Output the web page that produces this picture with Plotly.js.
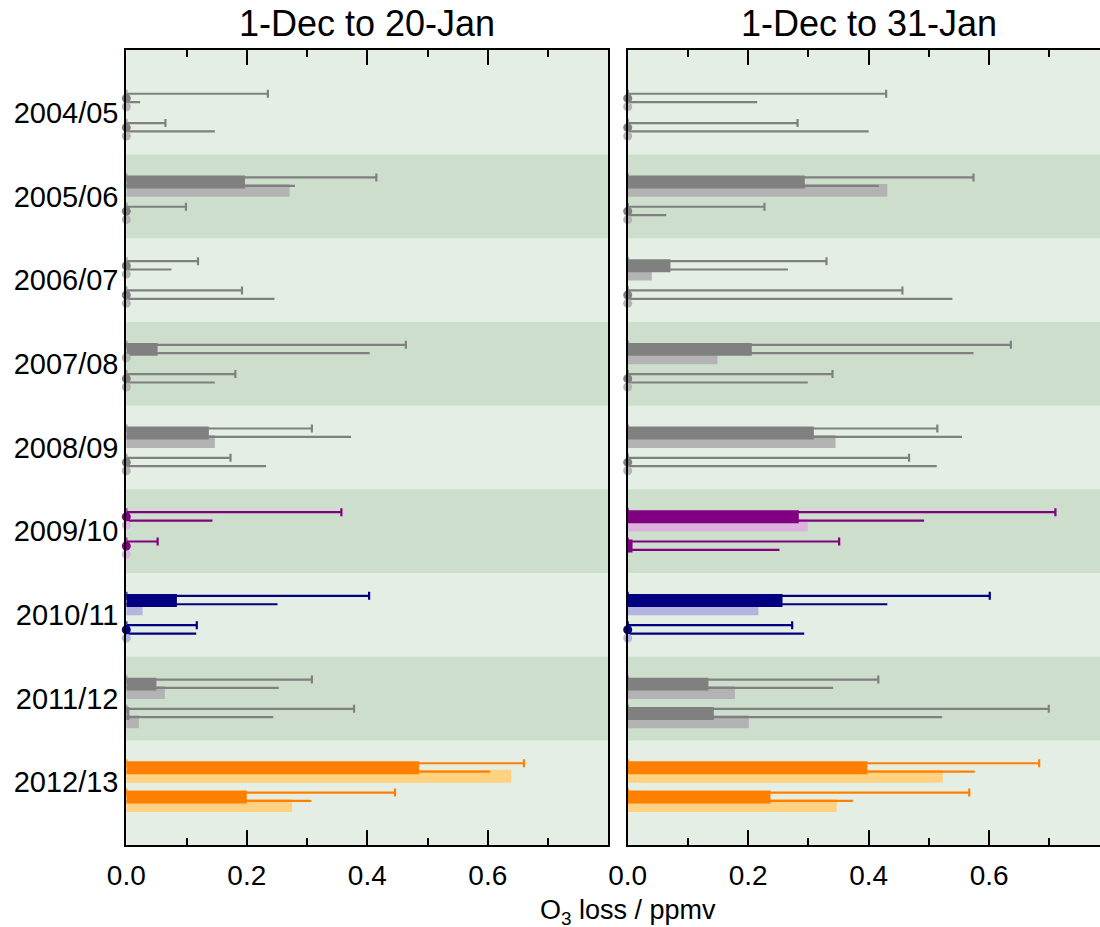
<!DOCTYPE html>
<html>
<head>
<meta charset="utf-8">
<script src="https://cdn.plot.ly/plotly-3.0.1.min.js"></script>
<style>
    body { margin: 0; background: white; }
    #chart { width: 1100px; height: 927px; }
</style>
</head>
<body>
<div id="chart"></div>
<script>
'use strict';

// Seasons, top to bottom
const seasons = ['2004/05', '2005/06', '2006/07', '2007/08', '2008/09',
                 '2009/10', '2010/11', '2011/12', '2012/13'];

// x tick labels
const xTicks = [0, 0.2, 0.4, 0.6];

// 1-Dec to 20-Jan: bar values and upper ends of the lines (ppmv)
const jan20Dark1 = [0, 0.197, 0, 0.052, 0.137, 0, 0.084, 0.050, 0.486];
const jan20Dark1Hi = [0.235, 0.415, 0.119, 0.464, 0.308, 0.357, 0.403, 0.308, 0.660];
const jan20Light1 = [0, 0.271, 0, 0, 0.147, 0, 0.027, 0.064, 0.639];
const jan20Light1Hi = [0.023, 0.280, 0.075, 0.404, 0.373, 0.143, 0.251, 0.253, 0.604];
const jan20Dark2 = [0, 0, 0, 0, 0, 0, 0, 0.005, 0.200];
const jan20Dark2Hi = [0.065, 0.099, 0.192, 0.181, 0.173, 0.052, 0.117, 0.378, 0.446];
const jan20Light2 = [0, 0, 0, 0, 0, 0, 0, 0.021, 0.275];
const jan20Light2Hi = [0.147, 0, 0.246, 0.147, 0.232, 0, 0.116, 0.244, 0.307];

// 1-Dec to 31-Jan
const jan31Dark1 = [0, 0.294, 0.071, 0.206, 0.309, 0.284, 0.257, 0.134, 0.398];
const jan31Dark1Hi = [0.429, 0.574, 0.330, 0.636, 0.514, 0.710, 0.601, 0.416, 0.683];
const jan31Light1 = [0, 0.431, 0.040, 0.149, 0.345, 0.299, 0.217, 0.178, 0.523];
const jan31Light1Hi = [0.215, 0.417, 0.266, 0.574, 0.555, 0.492, 0.431, 0.341, 0.576];
const jan31Dark2 = [0, 0, 0, 0, 0, 0.008, 0, 0.143, 0.237];
const jan31Dark2Hi = [0.282, 0.227, 0.456, 0.340, 0.467, 0.351, 0.273, 0.699, 0.567];
const jan31Light2 = [0, 0, 0, 0, 0, null, 0, 0.201, 0.347];
const jan31Light2Hi = [0.400, 0.064, 0.539, 0.299, 0.513, 0.252, 0.293, 0.522, 0.374];

// colours [dark, light]
const defaultColors = ['#808080', '#b3b3b3'];
const highlight = {
    '2009/10': ['#800080', '#ddb3dd'],
    '2010/11': ['#000080', '#b4b4de'],
    '2012/13': ['#ff8000', '#ffd180']
};

// sub-row layout inside one season band
const rows = [
    { offset: -0.25, center: -0.1725, line: -0.227, shade: 0, cap: 4 },
    { offset: -0.15, center: -0.0725, line: -0.127, shade: 1, cap: 0 },
    { offset: 0.10, center: 0.1775, line: 0.123, shade: 0, cap: 4 },
    { offset: 0.20, center: 0.2775, line: 0.223, shade: 1, cap: 0 }
];
const barWidth = 0.155;

function seasonColor(i, shade) {
    let c = highlight[seasons[i]] || defaultColors;
    return c[shade];
}

function makePanel(series, xa, ya) {
    let idx = seasons.map((s, i) => i);
    let bars = [];
    let lines = [];
    let dots = [];

    // light bars first so the dark ones sit on top
    for (let r of [1, 3, 0, 2]) {
        bars.push({
            type: 'bar',
            orientation: 'h',
            x: series[r].vals,
            y: idx,
            width: barWidth,
            offset: rows[r].offset,
            marker: { color: idx.map(i => seasonColor(i, rows[r].shade)) },
            xaxis: xa, yaxis: ya,
            hoverinfo: 'skip'
        });
    }

    for (let r of [1, 3, 0, 2]) {
        for (let i of idx) {
            let hi = series[r].hi[i];
            if (!hi) continue;
            lines.push({
                type: 'scatter',
                mode: 'markers',
                x: [0],
                y: [i + rows[r].line],
                marker: { opacity: 0, size: 2 },
                error_x: {
                    type: 'data',
                    symmetric: false,
                    array: [hi],
                    arrayminus: [0],
                    color: seasonColor(i, 0),
                    thickness: 2.2,
                    width: rows[r].cap
                },
                xaxis: xa, yaxis: ya,
                hoverinfo: 'skip'
            });
        }
    }

    // dots mark zero loss
    for (let r of [1, 3, 0, 2]) {
        let zero = idx.filter(i => series[r].vals[i] === 0);
        dots.push({
            type: 'scatter',
            mode: 'markers',
            x: zero.map(() => 0),
            y: zero.map(i => i + rows[r].center),
            marker: { size: 9, color: zero.map(i => seasonColor(i, rows[r].shade)) },
            cliponaxis: false,
            xaxis: xa, yaxis: ya,
            hoverinfo: 'skip'
        });
    }
    return bars.concat(lines, dots);
}

let panel1 = [
    { vals: jan20Dark1, hi: jan20Dark1Hi },
    { vals: jan20Light1, hi: jan20Light1Hi },
    { vals: jan20Dark2, hi: jan20Dark2Hi },
    { vals: jan20Light2, hi: jan20Light2Hi }
];
let panel2 = [
    { vals: jan31Dark1, hi: jan31Dark1Hi },
    { vals: jan31Light1, hi: jan31Light1Hi },
    { vals: jan31Dark2, hi: jan31Dark2Hi },
    { vals: jan31Light2, hi: jan31Light2Hi }
];

let data = makePanel(panel1, 'x', 'y').concat(makePanel(panel2, 'x2', 'y2'));

// darker bands for every second season
let shapes = [];
for (let i = 0; i < seasons.length; i++) {
    if (i % 2 === 0) continue;
    for (let ax of [['x', 'y'], ['x2', 'y2']]) {
        shapes.push({
            type: 'rect',
            xref: ax[0] + ' domain', yref: ax[1],
            x0: 0, x1: 1, y0: i - 0.5, y1: i + 0.5,
            fillcolor: '#cddfcc',
            line: { width: 0 },
            layer: 'below'
        });
    }
}

let xAxisBase = {
    showgrid: false,
    zeroline: false,
    showline: true,
    linecolor: 'black',
    linewidth: 2,
    mirror: 'ticks',
    ticks: 'inside',
    ticklen: 15,
    tickwidth: 2,
    tickcolor: 'black',
    tickmode: 'array',
    tickvals: xTicks,
    ticktext: xTicks.map(v => v.toFixed(1)),
    ticklabelstandoff: 4,
    tickfont: { size: 28 },
    minor: {
        tickmode: 'array',
        tickvals: [0.1, 0.3, 0.5, 0.7],
        ticks: 'inside', ticklen: 7, tickwidth: 2, tickcolor: 'black'
    },
    automargin: false,
    fixedrange: true
};

let layout = {
    width: 1100,
    height: 927,
    margin: { l: 0, r: 0, t: 50, b: 82 },
    paper_bgcolor: 'white',
    plot_bgcolor: '#e4eee4',
    showlegend: false,
    barmode: 'overlay',
    font: { family: 'Liberation Sans, Arial, sans-serif', color: 'black' },

    xaxis: Object.assign({}, xAxisBase, {
        domain: [126.3 / 1100, 608.3 / 1100],
        range: [0, 0.8],
        anchor: 'y'
    }),
    xaxis2: Object.assign({}, xAxisBase, {
        domain: [627.7 / 1100, 1],
        range: [0, 0.784],
        anchor: 'y2'
    }),
    yaxis: {
        range: [8.75, -0.75],
        tickvals: seasons.map((s, i) => i),
        ticktext: seasons,
        ticks: '',
        showgrid: false,
        zeroline: false,
        showline: true,
        mirror: true,
        linecolor: 'black',
        linewidth: 2,
        ticklabelstandoff: 0,
        tickfont: { size: 29 },
        automargin: false,
        fixedrange: true
    },
    yaxis2: {
        anchor: 'x2',
        matches: 'y',
        showticklabels: false,
        ticks: '',
        showgrid: false,
        zeroline: false,
        showline: true,
        mirror: false,
        linecolor: 'black',
        linewidth: 2,
        automargin: false,
        fixedrange: true
    },

    shapes: shapes,

    annotations: [
        {
            text: '1-Dec to 20-Jan',
            xref: 'x', x: 0.4,
            yref: 'paper', y: 1 + 27 / 795, yanchor: 'middle',
            showarrow: false,
            font: { size: 36 }
        },
        {
            text: '1-Dec to 31-Jan',
            xref: 'x2', x: 0.4,
            yref: 'paper', y: 1 + 27 / 795, yanchor: 'middle',
            showarrow: false,
            font: { size: 36 }
        },
        {
            text: 'O<sub>3</sub> loss / ppmv',
            xref: 'paper', x: 628 / 1100,
            yref: 'paper', y: -67 / 795, yanchor: 'middle',
            showarrow: false,
            font: { size: 27 }
        }
    ]
};

let config = {
    displayModeBar: false,
    staticPlot: true
};

Plotly.newPlot('chart', data, layout, config);
</script>
</body>
</html>
